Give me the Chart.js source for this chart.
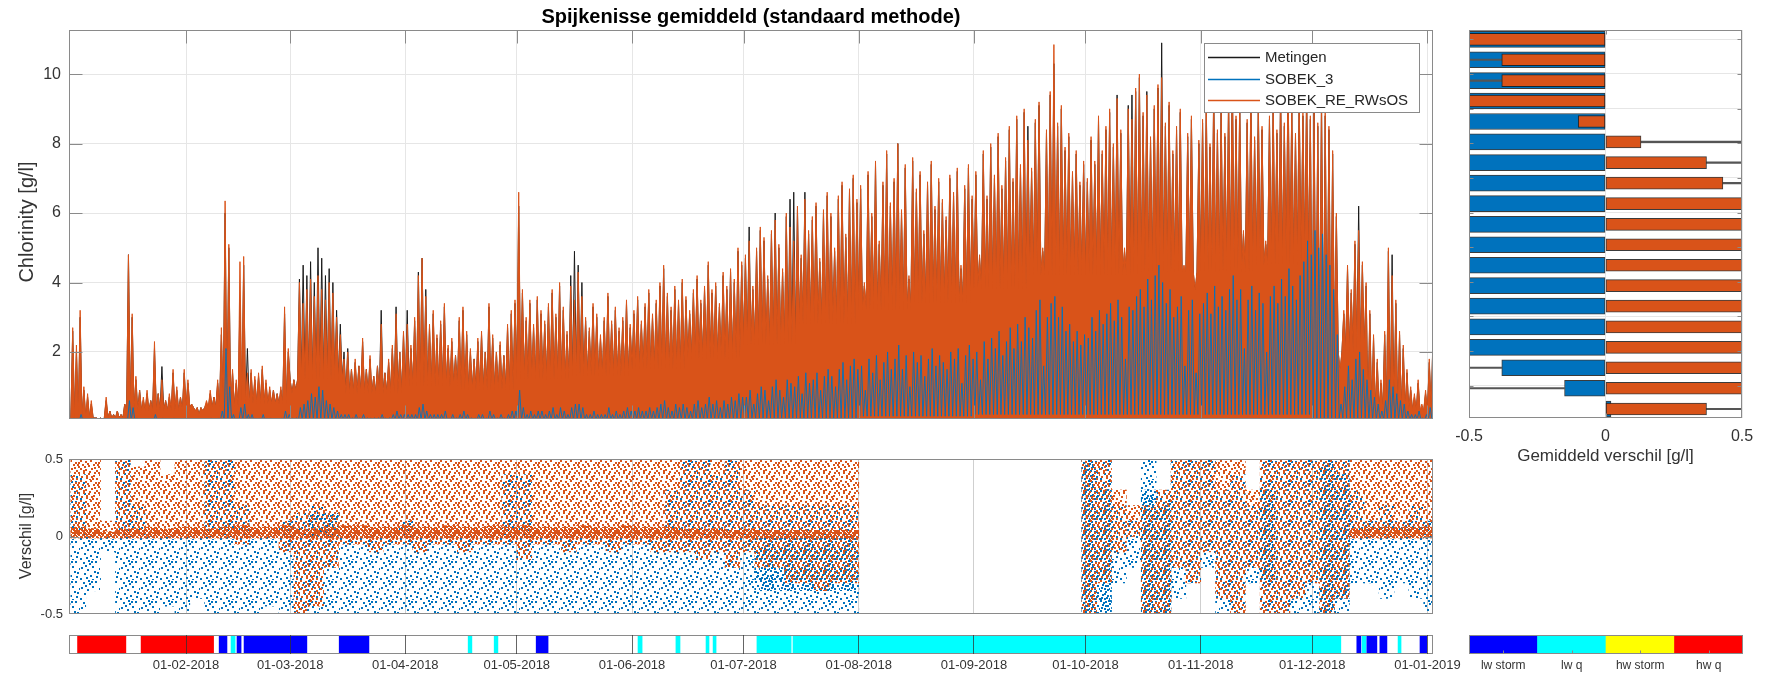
<!DOCTYPE html>
<html>
<head>
<meta charset="utf-8">
<script src="https://cdn.jsdelivr.net/npm/chart.js@4.4.1/dist/chart.umd.min.js"></script>
<style>
html,body{margin:0;padding:0;background:#fff;width:1774px;height:678px;overflow:hidden}
.layer{position:absolute;left:0;top:0;width:1774px;height:678px}
canvas{display:block}
</style>
</head>
<body>
<div class="layer"><canvas id="main" width="1774" height="678"></canvas></div>
<div class="layer"><canvas id="diff" width="1774" height="678"></canvas></div>
<div class="layer"><canvas id="strip" width="1774" height="678"></canvas></div>
<div class="layer"><canvas id="bars" width="1774" height="678"></canvas></div>
<div class="layer"><canvas id="key" width="1774" height="678"></canvas></div>
<script>
// ---------------- DATA ----------------
// month starts (days since 01-01-2018) used as x ticks, and their labels
const monthTicks = [31, 59, 90, 120, 151, 181, 212, 243, 273, 304, 334, 365];
const monthLabels = ['01-02-2018','01-03-2018','01-04-2018','01-05-2018','01-06-2018','01-07-2018',
  '01-08-2018','01-09-2018','01-10-2018','01-11-2018','01-12-2018','01-01-2019'];
const monthStart = [0, 31, 59, 90, 120, 151, 181, 212, 243, 273, 304, 334, 367];
const chlTicks = [2, 4, 6, 8, 10];

// daily tidal peaks of chlorinity [g/l], 01-01-2018 .. 02-01-2019
const metingen = [
 2.6,2.0,3.0,0.9,0.7,0.5,0.1,0.05,0.05,0.6,0.3,0.2,0.3,0.2,0.5,4.8,3.0,1.2,0.9,0.6,0.8,0.6,2.1,0.8,1.58,0.6,0.7,1.4,0.9,0.7,1.4,
 1.1,0.5,0.3,0.2,0.3,0.5,0.8,0.7,1.1,2.5,6.0,5.0,1.4,1.1,3.5,4.5,2.1,1.4,1.2,1.3,1.5,1.1,0.9,0.9,0.8,0.9,3.1,2.0,
 0.8,0.9,4.1,4.5,4.2,4.6,4.0,5.0,4.7,4.2,4.4,4.0,3.2,2.8,2.0,2.1,1.5,1.7,1.6,2.3,1.5,1.8,1.3,1.6,3.2,1.4,1.7,2.1,3.3,2.0,2.5,
 3.2,2.1,2.9,4.3,4.7,3.8,2.7,3.1,2.4,2.8,3.3,2.1,2.3,1.9,2.9,3.2,2.5,2.0,1.8,2.3,2.5,2.0,3.3,2.4,2.0,2.2,1.9,2.7,3.1,3.4,
 6.2,3.7,2.9,3.4,2.7,3.5,3.1,2.8,3.3,3.7,3.0,3.9,3.2,2.5,4.2,4.9,4.5,4.0,2.9,2.6,3.3,3.0,2.4,2.9,3.6,2.8,3.2,2.6,2.9,3.4,2.7,
 3.1,3.5,2.8,3.3,3.7,3.0,3.4,3.9,4.4,3.6,3.2,3.8,3.4,4.0,3.5,3.1,3.7,4.1,3.4,3.8,4.5,3.7,3.9,3.3,4.2,3.8,4.3,4.0,4.9,4.5,
 4.7,5.6,3.8,4.9,5.5,5.2,4.1,5.4,6.0,5.0,4.3,5.9,6.4,6.6,6.1,4.7,6.6,5.4,5.8,6.2,4.6,6.0,6.5,5.9,4.9,6.4,6.8,5.3,6.6,7.0,6.3,
 6.7,3.9,7.1,5.9,7.4,5.1,6.8,7.7,6.2,6.9,8.0,6.0,7.3,4.1,7.5,6.6,7.1,5.4,6.8,7.4,6.1,6.9,6.3,5.8,7.0,6.5,7.2,4.4,6.7,7.3,6.4,
 7.1,4.7,7.7,6.4,7.9,7.0,8.2,6.7,7.5,8.4,6.9,8.7,7.3,8.9,8.5,7.2,8.6,9.1,4.9,8.3,9.4,10.3,8.5,9.0,7.8,8.2,7.1,7.7,6.8,7.4,
 6.9,8.1,7.4,8.7,7.7,8.4,8.9,7.9,9.4,8.3,4.9,9.1,9.4,9.5,9.9,8.8,9.5,8.1,9.0,9.6,10.9,8.5,9.1,7.7,8.4,8.9,4.4,8.2,8.7,3.7,8.0,
 8.6,9.1,7.9,9.6,8.3,8.9,8.2,9.3,10.1,8.7,9.2,5.4,8.6,9.4,8.1,9.2,8.4,5.1,8.7,9.1,8.3,9.6,8.5,9.9,9.0,8.2,9.3,8.8,9.5,8.7,
 8.9,8.5,9.3,8.8,8.4,7.7,5.9,1.4,3.1,4.4,3.7,5.1,6.2,4.5,3.9,3.1,2.4,1.7,1.1,2.5,4.9,4.8,3.4,2.5,2.1,1.4,0.9,0.7,1.1,0.4,0.8,1.7,2.4
];
const sobek3 = [
 0.1,0.1,0.2,0.05,0.05,0.05,0.02,0.02,0.02,0.05,0.05,0.05,0.05,0.05,0.1,0.6,0.4,0.1,0.05,0.05,0.05,0.05,0.2,0.05,0.1,0.05,0.05,0.1,0.05,0.05,0.1,
 0.1,0.05,0.05,0.05,0.05,0.05,0.1,0.05,0.1,0.3,2.1,1.0,0.2,0.1,0.4,0.5,0.2,0.2,0.1,0.1,0.2,0.1,0.1,0.05,0.05,0.1,0.3,0.2,
 0.1,0.1,0.4,0.5,0.6,0.8,0.7,1.0,0.9,0.6,0.5,0.4,0.3,0.2,0.2,0.2,0.1,0.2,0.1,0.2,0.1,0.1,0.1,0.1,0.2,0.1,0.1,0.2,0.3,0.2,0.2,
 0.2,0.2,0.2,0.4,0.5,0.3,0.2,0.2,0.2,0.2,0.3,0.1,0.2,0.1,0.2,0.3,0.2,0.1,0.1,0.2,0.2,0.1,0.3,0.2,0.1,0.2,0.1,0.2,0.3,0.3,
 0.9,0.4,0.2,0.3,0.2,0.3,0.3,0.2,0.3,0.4,0.2,0.4,0.3,0.2,0.4,0.5,0.5,0.4,0.2,0.2,0.3,0.2,0.2,0.2,0.4,0.2,0.3,0.2,0.3,0.4,0.3,
 0.3,0.4,0.3,0.3,0.4,0.3,0.4,0.5,0.6,0.4,0.3,0.5,0.4,0.5,0.4,0.3,0.5,0.6,0.4,0.5,0.7,0.5,0.6,0.4,0.6,0.5,0.7,0.6,0.8,0.7,
 0.7,0.9,0.5,0.8,1.0,0.9,0.6,1.0,1.2,0.9,0.7,1.2,1.1,1.0,1.3,0.8,1.4,1.1,1.2,1.4,0.9,1.3,1.5,1.3,1.0,1.5,1.7,1.2,1.6,1.8,1.5,
 1.6,0.9,1.8,1.4,1.9,1.2,1.7,2.0,1.5,1.8,2.2,1.5,1.9,1.0,2.0,1.7,1.9,1.3,1.8,2.1,1.6,1.9,1.7,1.5,2.0,1.8,2.1,1.1,1.9,2.2,1.8,
 2.0,1.2,2.3,1.8,2.4,2.1,2.6,1.9,2.3,2.7,2.1,2.8,2.3,3.0,2.7,2.4,3.2,3.5,1.6,3.0,3.4,3.6,3.0,3.3,2.6,2.8,2.3,2.6,2.2,2.5,
 2.4,3.0,2.6,3.2,2.8,3.1,3.4,2.9,3.5,3.0,1.8,3.3,3.2,3.6,3.8,3.3,4.1,3.5,4.2,4.5,4.0,3.4,3.8,3.0,3.3,3.6,1.6,3.2,3.5,1.4,3.1,
 3.4,3.7,3.1,3.9,3.3,3.6,3.2,3.8,4.2,3.5,3.8,2.1,3.5,3.9,3.2,3.7,3.4,2.0,3.6,3.9,3.4,4.1,3.6,4.4,3.9,3.5,4.2,4.6,5.2,4.8,
 5.5,5.0,5.4,4.8,4.5,3.8,2.5,0.5,1.0,1.6,1.2,1.8,2.0,1.5,1.2,0.9,0.7,0.5,0.3,0.6,1.2,1.0,0.8,0.6,0.5,0.3,0.2,0.2,0.3,0.1,0.2,0.4,0.5
];
const sobekRE = [
 2.7,2.2,3.2,1.0,0.8,0.6,0.1,0.05,0.05,0.7,0.3,0.2,0.3,0.2,0.5,4.8,3.1,1.3,0.9,0.7,0.9,0.6,2.3,0.8,1.2,0.6,0.8,1.5,1.0,0.7,1.5,
 1.2,0.5,0.3,0.2,0.3,0.6,0.9,0.7,1.2,2.7,6.35,5.1,1.5,1.2,4.6,4.75,1.4,1.5,1.3,1.4,1.6,1.2,1.0,0.9,0.8,1.0,3.3,2.1,
 0.8,0.9,4.0,3.4,3.8,4.1,3.6,4.2,3.8,3.5,4.0,3.7,3.0,2.5,1.8,2.0,1.5,1.8,1.6,2.4,1.5,1.9,1.3,1.6,2.8,1.4,1.8,2.2,3.1,2.0,2.6,
 2.8,2.2,3.0,4.2,4.7,3.6,2.8,3.2,2.5,2.9,3.4,2.2,2.4,1.9,3.0,3.3,2.6,2.1,1.8,2.4,2.6,2.0,3.4,2.5,2.0,2.3,1.9,2.8,3.2,3.5,
 6.6,3.8,3.0,3.5,2.8,3.6,3.2,2.9,3.4,3.8,3.1,4.0,3.3,2.6,3.9,3.5,4.3,3.6,3.0,2.7,3.4,3.1,2.5,3.0,3.7,2.9,3.3,2.7,3.0,3.5,2.8,
 3.2,3.6,2.9,3.4,3.8,3.1,3.5,4.0,4.5,3.7,3.3,3.9,3.5,4.1,3.6,3.2,3.8,4.2,3.5,3.9,4.6,3.8,4.0,3.4,4.3,3.9,4.4,4.1,5.0,4.6,
 4.8,5.2,3.9,5.0,5.6,5.3,4.2,5.5,5.8,5.1,4.4,6.0,5.6,5.2,6.2,4.8,6.4,5.5,5.9,6.3,4.7,6.1,6.6,6.0,5.0,6.5,6.9,5.4,6.7,7.1,6.4,
 6.8,4.0,7.2,6.0,7.5,5.2,6.9,7.8,6.3,7.0,8.0,6.1,7.4,4.2,7.6,6.7,7.2,5.5,6.9,7.5,6.2,7.0,6.4,5.9,7.1,6.6,7.3,4.5,6.8,7.4,6.5,
 7.2,4.8,7.8,6.5,8.0,7.1,8.3,6.8,7.6,8.5,7.0,8.8,7.4,9.0,8.1,7.3,8.7,9.2,5.0,8.4,9.5,10.85,8.6,9.1,7.9,8.3,7.2,7.8,6.9,7.5,
 7.0,8.2,7.5,8.8,7.8,8.5,9.0,8.0,9.3,8.4,5.0,9.0,8.7,9.6,10.0,8.9,9.4,8.2,9.1,9.7,9.9,8.6,9.2,7.8,8.5,9.0,4.5,8.3,8.8,3.8,8.1,
 8.7,9.2,8.0,9.6,8.4,9.0,8.3,9.4,10.2,8.8,9.3,5.5,8.7,9.5,8.2,9.0,8.5,5.2,8.8,9.2,8.4,9.7,8.6,10.0,9.1,8.3,9.4,8.9,9.6,8.8,
 9.0,8.6,9.4,8.9,8.5,7.8,6.0,1.5,3.2,4.5,3.8,5.2,5.5,4.6,4.0,3.2,2.5,1.8,1.2,2.6,5.0,4.2,3.5,2.6,2.2,1.5,1.0,0.8,1.2,0.5,0.9,1.8,2.5
];
// half-monthly tidal-trough level (Jan a/b .. Dec a/b)
const troughRE = [0.1,0.3, 0.4,0.5, 1.2,0.8, 1.0,0.9, 1.2,1.3, 1.5,1.8, 2.2,2.8, 3.2,3.4, 3.8,4.2, 4.2,4.3, 4.3,4.5, 2.0,0.3];
const trough3  = [0.02,0.02, 0.03,0.03, 0.05,0.05, 0.05,0.05, 0.05,0.05, 0.05,0.05, 0.1,0.1, 0.15,0.15, 0.2,0.2, 0.2,0.2, 0.2,0.2, 0.1,0.05];

// difference panel: 4-day windows (start day = 4*i); spread of the point clouds [g/l]
const diffREhi = [.5,.5,.1,.5,.45,.5,.4,.5, .5,.5,.5,.5,.5,.5,.5,.5, .5,.5,.5,.5,.5,.5,.5,.5, .5,.5,.5,.5,.5,.5,.5,.5,
 .5,.5,.5,.5,.5,.5,.5,.5, .5,.5,.5,.5,.5,.5,.5,.5, .5,.5,.5,.5,.5,
 null,null,null,null,null,null,null,null,null,null,null,null,null,null,null,
 .5,.5,.3,.2,.2,.3,.5,.5, .5,.5,.5,.3,.5,.5,.5,.5, .5,.5,.5,.5,.5,.5,.5,.5];
const diffRElo = [0,0,0,0,0,0,0,0, 0,0,0,-.05,0,0,-.1,-.5, -.45,-.2,-.05,-.05,-.1,-.05,-.05,-.1, -.05,-.05,-.1,-.05,-.05,-.05,-.15,-.05,
 -.05,-.1,-.05,-.05,-.1,-.05,-.05,-.1, -.1,-.1,-.15,-.1,-.2,-.1,-.2,-.2, -.3,-.3,-.35,-.3,-.3,
 null,null,null,null,null,null,null,null,null,null,null,null,null,null,null,
 -.5,-.3,-.1,0,-.5,-.5,-.2,-.3, -.1,-.4,-.5,-.2,-.5,-.5,-.4,-.3, -.5,-.4,0,0,0,0,0,0];
const diffREdense = [.06,.05,.03,.05,.05,.06,.05,.06, .06,.05,.06,.07,.06,.06,.07,.05, .05,.06,.07,.07,.06,.06,.07,.06, .06,.07,.06,.06,.07,.06,.07,.06,
 .06,.06,.07,.06,.06,.07,.06,.06, .06,.05,.05,.05,.04,.05,.04,.04, .04,.04,.04,.04,.04,
 null,null,null,null,null,null,null,null,null,null,null,null,null,null,null,
 null,null,null,null,null,null,null,null, null,null,null,null,null,null,null,null, null,null,.05,.06,.06,.06,.06,.06];
const diff3hi = [.4,0,0,.5,.2,0,0,0, 0,.5,.5,.2,0,0,.1,.15, .2,.15,0,0,0,0,.1,0, 0,0,0,0,0,.4,.4,0,
 0,0,0,0,0,0,0,0, .3,.5,.5,.4,.5,.3,.2,.2, .2,.2,.2,.2,.2,
 null,null,null,null,null,null,null,null,null,null,null,null,null,null,null,
 .5,.5,.2,.1,.5,.3,.5,.5, .5,.3,.4,.2,.5,.5,.5,.5, .5,.5,.3,.1,.2,.1,.2,.1];
const diff3lo = [-.5,-.35,-.1,-.5,-.5,-.5,-.45,-.5, -.4,-.5,-.5,-.5,-.5,-.45,-.5,-.5, -.5,-.5,-.5,-.5,-.5,-.5,-.5,-.5, -.5,-.5,-.5,-.5,-.5,-.5,-.5,-.5,
 -.5,-.5,-.5,-.5,-.5,-.5,-.5,-.5, -.5,-.5,-.5,-.5,-.5,-.5,-.5,-.5, -.5,-.5,-.5,-.5,-.5,
 null,null,null,null,null,null,null,null,null,null,null,null,null,null,null,
 -.5,-.5,-.3,-.2,-.5,-.5,-.4,-.3, -.2,-.5,-.5,-.3,-.5,-.5,-.5,-.5, -.5,-.5,-.3,-.3,-.4,-.3,-.4,-.5];
// dense SOBEK_3 clusters: [window, low, high]
const diff3dense = [[16,0,.15],[17,0,.15],[46,-.35,0],[47,-.35,0],[48,-.35,0],[49,-.35,0],[50,-.35,0],[51,-.35,0],[52,-.35,0],
 [68,-.5,.5],[69,-.5,.3],[72,-.5,.3],[73,-.5,.2],[80,-.3,.3],[84,-.5,.5],[85,-.4,.4]];

// condition strip: segments (days) and class
const condNames = ['lw storm', 'lw q', 'hw storm', 'hw q'];
const condColors = ['#0000FF', '#00FFFF', '#FFFF00', '#FF0000'];
const condStart = [1.8, 18.9, 39.9, 43.1, 44.7, 46.6, 72.2, 106.9, 113.9, 125.2, 152.6, 162.8, 170.9, 172.8, 184.6, 194.3, 346.0, 347.4, 348.7, 352.2, 357.1, 363.0];
const condEnd   = [14.8, 38.4, 42.0, 44.2, 45.8, 63.5, 80.2, 107.9, 114.9, 128.4, 153.7, 163.9, 171.7, 173.6, 193.8, 341.7, 347.1, 348.5, 351.4, 354.1, 357.9, 364.8];
const condType  = [3, 3, 0, 1, 0, 0, 0, 1, 1, 0, 1, 1, 1, 1, 1, 1, 0, 1, 0, 0, 1, 0];

// mean difference per chlorinity class (class centre g/l)
const classCentre = [11.0, 10.41, 9.81, 9.22, 8.63, 8.04, 7.44, 6.85, 6.26, 5.66, 5.07, 4.48, 3.89, 3.30, 2.70, 2.11, 1.52, 0.93, 0.33];
const meanSobek3  = [-0.6,-0.6,-0.6,-0.6,-0.6,-0.6,-0.6,-0.6,-0.6,-0.6,-0.6,-0.6,-0.6,-0.6,-0.6,-0.6,-0.38,-0.15,0.02];
const meanSobekRE = [-0.6,-0.38,-0.38,-0.6,-0.1,0.13,0.37,0.43,0.6,0.6,0.6,0.6,0.6,0.6,0.6,0.6,0.6,0.6,0.37];
const spreadRows  = [[1,-0.6,-0.38],[2,-0.6,-0.38],[5,0.13,0.6],[6,0.37,0.6],[7,0.43,0.6],[16,-0.6,-0.38],[17,-0.6,-0.15],[18,0.37,0.6]];
const diffTicks = [-0.5, 0, 0.5];

// ---------------- STYLE / HELPERS ----------------
const FONT = "'Liberation Sans', Arial, Helvetica, sans-serif";
const BLUE = '#0072BD', ORANGE = '#D95319', BLACK = '#1a1a1a';
const FRAME = '#8a8a8a', GRID = '#e6e6e6', TXT = '#333333';
Chart.defaults.font.family = FONT;
Chart.defaults.color = TXT;
Chart.defaults.animation = false;
Chart.defaults.events = [];
Chart.defaults.plugins.legend.display = false;
Chart.defaults.plugins.tooltip.enabled = false;

const framePlugin = {
  id: 'frame',
  afterDatasetsDraw(chart, args, o) {
    const {ctx, chartArea: a} = chart;
    ctx.save();
    ctx.strokeStyle = o.color || FRAME;
    ctx.lineWidth = 1;
    const L = Math.round(a.left) + 0.5, R = Math.round(a.right) - 0.5;
    const T = Math.round(a.top) + 0.5, B = Math.round(a.bottom) - 0.5;
    ctx.beginPath();
    if (o.xTick) {
      const s = chart.scales.x;
      s.ticks.forEach(t => {
        const p = Math.round(s.getPixelForValue(t.value)) + 0.5;
        if (p <= L + 1 || p >= R - 1) return;
        ctx.moveTo(p, B); ctx.lineTo(p, B - o.xTick);
        if (!o.bottomOnly) { ctx.moveTo(p, T); ctx.lineTo(p, T + o.xTick); }
      });
    }
    if (o.yTick) {
      const s = chart.scales.y;
      s.ticks.forEach(t => {
        const p = Math.round(s.getPixelForValue(t.value)) + 0.5;
        if (p <= T + 1 || p >= B - 1) return;
        ctx.moveTo(L, p); ctx.lineTo(L + o.yTick, p);
        ctx.moveTo(R, p); ctx.lineTo(R - o.yTick, p);
      });
    }
    ctx.stroke();
    ctx.strokeRect(L, T, R - L, B - T);
    ctx.restore();
  }
};
const textPlugin = {
  id: 'texts',
  afterDraw(chart, args, o) {
    const ctx = chart.ctx;
    (o.items || []).forEach(it => {
      ctx.save();
      ctx.font = it.font;
      ctx.fillStyle = it.color || TXT;
      ctx.textAlign = 'center';
      ctx.textBaseline = 'middle';
      ctx.translate(it.x, it.y);
      if (it.rotate) ctx.rotate(it.rotate);
      ctx.fillText(it.text, 0, 0);
      ctx.restore();
    });
  }
};
const legendPlugin = {
  id: 'boxLegend',
  afterDraw(chart, args, o) {
    if (!o || !o.display) return;
    const ctx = chart.ctx;
    ctx.save();
    ctx.fillStyle = '#fff';
    ctx.fillRect(o.x, o.y, o.w, o.h);
    ctx.strokeStyle = FRAME; ctx.lineWidth = 1;
    ctx.strokeRect(o.x + 0.5, o.y + 0.5, o.w, o.h);
    ctx.font = o.font; ctx.textBaseline = 'middle'; ctx.textAlign = 'left';
    chart.data.datasets.forEach((ds, i) => {
      const yy = Math.round(o.y + o.first + i * o.gap);
      ctx.strokeStyle = ds.borderColor; ctx.lineWidth = 1.3;
      ctx.beginPath(); ctx.moveTo(o.x + o.l0, yy + 0.5); ctx.lineTo(o.x + o.l1, yy + 0.5); ctx.stroke();
      ctx.fillStyle = '#262626';
      ctx.fillText(ds.label, o.x + o.tx, yy + 1);
    });
    ctx.restore();
  }
};
function makePattern(color, size, dots, dot) {
  const c = document.createElement('canvas');
  c.width = size; c.height = size;
  const g = c.getContext('2d');
  g.fillStyle = color;
  dots.forEach(([x, y]) => g.fillRect(x, y, dot, dot));
  return g.createPattern(c, 'repeat');
}
const halfOf = d => {
  let m = 0;
  while (m < 11 && d >= monthStart[m + 1]) m++;
  return 2 * m + (d >= monthStart[m] + 15 ? 1 : 0);
};
const setTicks = vals => s => { s.ticks = vals.map(v => ({value: v})); };
const monthLabel = v => { const i = monthTicks.indexOf(v); return i >= 0 ? monthLabels[i] : ''; };

// ---------------- MAIN TIME SERIES ----------------
function tidal(peaks, troughs, offPeak, offLow) {
  const pts = [];
  peaks.forEach((p, d) => {
    pts.push({x: d + offLow, y: troughs[halfOf(d)]});
    pts.push({x: d + offPeak, y: p});
  });
  pts.push({x: peaks.length + offLow, y: troughs[troughs.length - 1]});
  return pts;
}
new Chart(document.getElementById('main'), {
  type: 'line',
  data: {
    datasets: [
      {label: 'Metingen', data: tidal(metingen, troughRE, 0.5, 0), borderColor: BLACK, borderWidth: 1, pointRadius: 0, fill: false, order: 2},
      {label: 'SOBEK_3', data: tidal(sobek3, trough3, 0.75, 0.25), borderColor: BLUE, borderWidth: 0.9, pointRadius: 0, fill: false, order: 0},
      {label: 'SOBEK_RE_RWsOS', data: tidal(sobekRE, troughRE, 0.5, 0), borderColor: ORANGE, backgroundColor: ORANGE, borderWidth: 1, pointRadius: 0, fill: 'origin', order: 1}
    ]
  },
  options: {
    responsive: false,
    layout: {padding: {left: 0, top: 30, right: 341, bottom: 259}},
    elements: {line: {tension: 0}},
    scales: {
      x: {type: 'linear', min: -0.5, max: 366.5, afterBuildTicks: setTicks(monthTicks), afterFit: s => { s.height = 0; },
          ticks: {display: false}, grid: {color: GRID, drawTicks: false}, border: {display: false}},
      y: {type: 'linear', min: 0.07, max: 11.27, afterBuildTicks: setTicks(chlTicks), afterFit: s => { s.width = 69; },
          ticks: {font: {size: 16}, color: TXT, padding: 8}, grid: {color: GRID, drawTicks: false}, border: {display: false}}
    },
    plugins: {
      frame: {xTick: 13, yTick: 13},
      texts: {items: [
        {text: 'Spijkenisse gemiddeld (standaard methode)', x: 751, y: 17, font: 'bold 20px ' + FONT, color: '#000'},
        {text: 'Chlorinity [g/l]', x: 27, y: 222, rotate: -Math.PI / 2, font: '20px ' + FONT}
      ]},
      boxLegend: {display: true, x: 1204, y: 43, w: 215, h: 69, first: 14, gap: 21.5, l0: 4, l1: 56, tx: 61, font: '15px ' + FONT}
    }
  },
  plugins: [framePlugin, textPlugin, legendPlugin]
});

// ---------------- DIFFERENCE PANEL ----------------
const pOrange = makePattern(ORANGE, 20, [[0,0],[5,1],[10,0],[15,2],[2,4],[8,5],[13,4],[18,6],[0,8],[5,9],[11,8],[16,10],[3,12],[8,13],[14,12],[19,14],
  [1,16],[6,17],[11,16],[16,18],[9,19],[18,2],[13,15],[4,6],[7,3],[17,4],[3,10],[14,7],[9,11],[18,12],[6,15],[12,18]], 2);
const pOrangeDense = makePattern(ORANGE, 8, [[0,0],[4,0],[2,2],[6,2],[0,4],[4,4],[2,6],[6,6],[1,1],[5,5],[3,7],[7,3]], 2);
const pBlue = makePattern(BLUE, 20, [[3,2],[9,3],[15,1],[19,8],[1,7],[7,9],[12,6],[17,12],[4,13],[10,15],[14,11],[0,18],[6,17],[12,19],[16,16],[8,0],[11,1],[5,5]], 2);
const pBlueDense = makePattern(BLUE, 10, [[0,0],[5,1],[2,4],[7,5],[4,8],[9,8],[1,7]], 2);
const winX = i => 4 * i + 2;
const spans = (lo, hi) => lo.map((l, i) => (l == null || hi[i] == null) ? null : {x: winX(i), y: [l, hi[i]]}).filter(Boolean);
const barBase = {grouped: false, barPercentage: 1, categoryPercentage: 1, borderWidth: 0};
new Chart(document.getElementById('diff'), {
  type: 'bar',
  data: {
    datasets: [
      Object.assign({label: 'SOBEK_3', data: spans(diff3lo, diff3hi), backgroundColor: pBlue, order: 4}, barBase),
      Object.assign({label: 'SOBEK_3 dense', data: diff3dense.map(([w, l, h]) => ({x: winX(w), y: [l, h]})), backgroundColor: pBlueDense, order: 3}, barBase),
      Object.assign({label: 'SOBEK_RE_RWsOS', data: spans(diffRElo, diffREhi), backgroundColor: pOrange, order: 2}, barBase),
      Object.assign({label: 'SOBEK_RE_RWsOS dense', data: spans(diffREdense.map(v => v == null ? null : -0.01), diffREdense), backgroundColor: pOrangeDense, order: 1}, barBase)
    ]
  },
  options: {
    responsive: false,
    layout: {padding: {left: 0, top: 459, right: 341, bottom: 64}},
    scales: {
      x: {type: 'linear', offset: false, min: -0.5, max: 366.5, afterBuildTicks: setTicks(monthTicks), afterFit: s => { s.height = 0; },
          ticks: {display: false}, grid: {color: '#cfcfcf', drawTicks: false, offset: false}, border: {display: false}},
      y: {type: 'linear', min: -0.5, max: 0.5, afterBuildTicks: setTicks(diffTicks), afterFit: s => { s.width = 69; },
          ticks: {font: {size: 13}, color: TXT, padding: 6, callback: v => (v === 0 ? '0' : String(v))},
          grid: {display: false, drawTicks: false}, border: {display: false}}
    },
    plugins: {
      frame: {xTick: 0, yTick: 10},
      texts: {items: [{text: 'Verschil [g/l]', x: 27, y: 536, rotate: -Math.PI / 2, font: '16px ' + FONT}]}
    }
  },
  plugins: [framePlugin, textPlugin]
});

// ---------------- CONDITION STRIP ----------------
new Chart(document.getElementById('strip'), {
  type: 'bar',
  data: {
    datasets: [{
      label: 'conditie',
      data: condStart.map((s, i) => ({y: 0, x: [s, condEnd[i]]})),
      backgroundColor: condType.map(t => condColors[t]),
      borderWidth: 0, barThickness: 19, grouped: false
    }]
  },
  options: {
    responsive: false,
    indexAxis: 'y',
    layout: {padding: {left: 69, top: 635, right: 341, bottom: 0}},
    scales: {
      x: {type: 'linear', min: -0.5, max: 366.5, afterBuildTicks: setTicks(monthTicks), afterFit: s => { s.height = 24; },
          ticks: {font: {size: 13}, color: TXT, padding: 4, maxRotation: 0, autoSkip: false, callback: monthLabel},
          grid: {color: 'rgba(50,50,50,0.75)', drawTicks: false, z: 1}, border: {display: false}},
      y: {type: 'linear', min: -0.5, max: 0.5, offset: false, display: false}
    },
    plugins: {frame: {color: '#8a8a8a'}}
  },
  plugins: [framePlugin]
});

// ---------------- MEAN DIFFERENCE BARS ----------------
new Chart(document.getElementById('bars'), {
  type: 'bar',
  data: {
    datasets: [
      {label: 'SOBEK_3', data: classCentre.map((c, i) => ({y: c, x: meanSobek3[i]})), backgroundColor: BLUE,
       borderColor: 'rgba(25,25,25,0.85)', borderWidth: 1, borderSkipped: false, barThickness: 16, grouped: false, order: 2},
      {label: 'spreiding', data: spreadRows.map(([r, a, b]) => ({y: classCentre[r], x: [a, b]})), backgroundColor: '#555',
       borderWidth: 0, barThickness: 1.5, grouped: false, order: 1},
      {label: 'SOBEK_RE_RWsOS', data: classCentre.map((c, i) => ({y: c, x: meanSobekRE[i]})), backgroundColor: ORANGE,
       borderColor: 'rgba(25,25,25,0.85)', borderWidth: 1, borderSkipped: false, barThickness: 12, grouped: false, order: 0}
    ]
  },
  options: {
    responsive: false,
    indexAxis: 'y',
    layout: {padding: {left: 1469, top: 30, right: 32, bottom: 230}},
    scales: {
      x: {type: 'linear', min: -0.5, max: 0.5, afterBuildTicks: setTicks(diffTicks), afterFit: s => { s.height = 30; },
          ticks: {font: {size: 16}, color: TXT, padding: 9, callback: v => (v === 0 ? '0' : String(v))},
          grid: {color: GRID, drawTicks: false}, border: {display: false}},
      y: {type: 'linear', min: 0.07, max: 11.27, offset: false, afterBuildTicks: setTicks([1,2,3,4,5,6,7,8,9,10,11]),
          afterFit: s => { s.width = 0; }, ticks: {display: false}, grid: {color: GRID, drawTicks: false, offset: false}, border: {display: false}}
    },
    plugins: {
      frame: {xTick: 4, yTick: 4},
      texts: {items: [{text: 'Gemiddeld verschil [g/l]', x: 1605.5, y: 456, font: '17px ' + FONT}]}
    }
  },
  plugins: [framePlugin, textPlugin]
});

// ---------------- CONDITION KEY ----------------
new Chart(document.getElementById('key'), {
  type: 'bar',
  data: {
    labels: condNames,
    datasets: [{label: 'klasse', data: condNames.map(() => 1), backgroundColor: condColors, borderWidth: 0,
      barPercentage: 1, categoryPercentage: 1}]
  },
  options: {
    responsive: false,
    layout: {padding: {left: 1469, top: 635, right: 31, bottom: 0}},
    scales: {
      x: {afterFit: s => { s.height = 24; }, ticks: {font: {size: 12}, color: TXT, padding: 4},
          grid: {display: false, drawTicks: false}, border: {display: false}},
      y: {min: 0, max: 1, display: false}
    },
    plugins: {frame: {xTick: 3, bottomOnly: true}}
  },
  plugins: [framePlugin]
});
</script>
</body>
</html>
